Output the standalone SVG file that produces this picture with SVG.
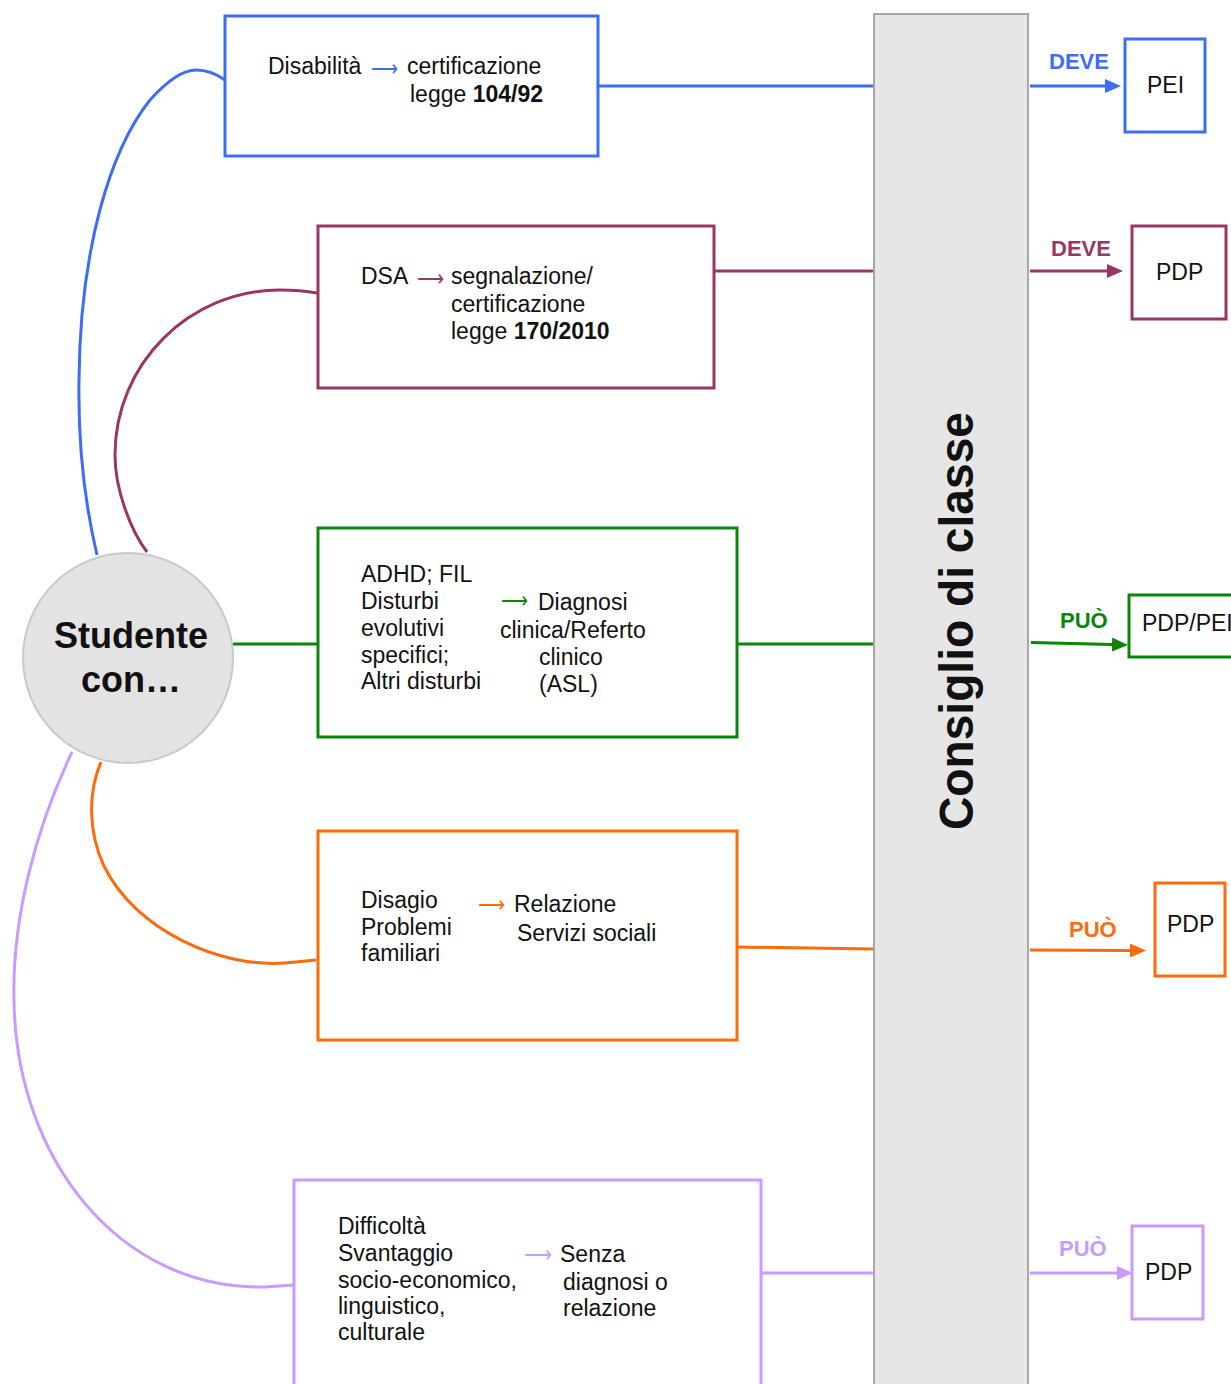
<svg xmlns="http://www.w3.org/2000/svg" width="1231" height="1384" viewBox="0 0 1231 1384">
  <style>
    text { font-family: "Liberation Sans", Arial, Helvetica, sans-serif; fill: #111; }
    .body { font-size: 23px; }
    .arr { font-family: "DejaVu Sans", "Liberation Sans", sans-serif; font-size: 23px; }
    .lbl { font-size: 22px; font-weight: bold; }
    .box { fill: #fff; stroke-width: 3; }
    .conn { fill: none; stroke-width: 3; }
    .blue { stroke: #3d6df5; }
    .maroon { stroke: #9b3566; }
    .green { stroke: #0a860a; }
    .orange { stroke: #ff6a0a; }
    .violet { stroke: #cc99ff; }
  </style>
  <defs>
    <marker id="ah-blue" markerUnits="userSpaceOnUse" markerWidth="16" markerHeight="14" refX="0" refY="7" orient="auto"><path d="M0,0 L16,7 L0,14 z" fill="#3d6df5"/></marker>
    <marker id="ah-maroon" markerUnits="userSpaceOnUse" markerWidth="16" markerHeight="14" refX="0" refY="7" orient="auto"><path d="M0,0 L16,7 L0,14 z" fill="#9b3566"/></marker>
    <marker id="ah-green" markerUnits="userSpaceOnUse" markerWidth="16" markerHeight="14" refX="0" refY="7" orient="auto"><path d="M0,0 L16,7 L0,14 z" fill="#0a860a"/></marker>
    <marker id="ah-orange" markerUnits="userSpaceOnUse" markerWidth="16" markerHeight="14" refX="0" refY="7" orient="auto"><path d="M0,0 L16,7 L0,14 z" fill="#ff6a0a"/></marker>
    <marker id="ah-violet" markerUnits="userSpaceOnUse" markerWidth="16" markerHeight="14" refX="0" refY="7" orient="auto"><path d="M0,0 L16,7 L0,14 z" fill="#cc99ff"/></marker>
  </defs>

  <rect width="1231" height="1384" fill="#fff"/>

  <!-- connectors -->
  <g id="connectors">
    <!-- curves from the student circle to each category box -->
    <path class="conn blue" d="M97,555 C84,500 78,440 79,380 C80,250 110,150 150,100 C168,80 183,70 196,70 C208,70 218,75 225,80"/>
    <path class="conn maroon" d="M147,552 C131,531 115,490 115,455 C115,364 189,290 280,290 C294,290 306,291 317,293"/>
    <path class="conn green" d="M233,644 L318,644"/>
    <path class="conn orange" d="M101,762 C88,792 88,832 104,866 C135,930 220,968 285,963 L316,960"/>
    <path class="conn violet" d="M72,752 C35,830 12,920 14,1000 C16,1160 120,1290 265,1287 L294,1285"/>
    <!-- boxes to the class council -->
    <path class="conn blue" d="M598,86 L874,86"/>
    <path class="conn maroon" d="M714,271 L874,271"/>
    <path class="conn green" d="M737,644 L874,644"/>
    <path class="conn orange" d="M737,947 L874,949"/>
    <path class="conn violet" d="M761,1273 L874,1273"/>
    <!-- council to plans -->
    <path class="conn blue" d="M1030,86 L1105,86" marker-end="url(#ah-blue)"/>
    <path class="conn maroon" d="M1030,271 L1107,271" marker-end="url(#ah-maroon)"/>
    <path class="conn green" d="M1031,642.5 L1112,644.5" marker-end="url(#ah-green)"/>
    <path class="conn orange" d="M1030,950 L1130,950.5" marker-end="url(#ah-orange)"/>
    <path class="conn violet" d="M1030,1273 L1117,1273" marker-end="url(#ah-violet)"/>
    <text class="lbl" x="1049" y="69" style="fill:#3d6df5">DEVE</text>
    <text class="lbl" x="1051" y="256" style="fill:#9b3566">DEVE</text>
    <text class="lbl" x="1060" y="628" style="fill:#0a860a">PUÒ</text>
    <text class="lbl" x="1069" y="937" style="fill:#ff6a0a">PUÒ</text>
    <text class="lbl" x="1059" y="1256" style="fill:#cc99ff">PUÒ</text>
  </g>

  <!-- class council column -->
  <g id="consiglio">
    <rect x="874" y="14" width="154" height="1380" fill="#e6e6e6" stroke="#a8a8a8" stroke-width="2"/>
    <text transform="translate(973,621) rotate(-90)" text-anchor="middle" font-size="48" font-weight="bold" textLength="418" lengthAdjust="spacingAndGlyphs">Consiglio di classe</text>
  </g>

  <!-- student -->
  <g id="studente">
    <circle cx="128" cy="658" r="105" fill="#e3e3e3" stroke="#c9c9c9" stroke-width="2"/>
    <text x="131" y="648" text-anchor="middle" font-size="36" font-weight="bold">Studente</text>
    <text x="131" y="692" text-anchor="middle" font-size="36" font-weight="bold">con…</text>
  </g>

  <!-- disability -->
  <g id="disabilita">
    <rect class="box blue" x="225" y="16" width="373" height="140"/>
    <text class="body" x="268" y="74">Disabilità</text>
    <text class="arr" x="371" y="76" textLength="27" lengthAdjust="spacingAndGlyphs" style="fill:#3d6df5">⟶</text>
    <text class="body" x="407" y="74">certificazione</text>
    <text class="body" x="410" y="102">legge <tspan font-weight="bold">104/92</tspan></text>
  </g>

  <!-- DSA -->
  <g id="dsa">
    <rect class="box maroon" x="318" y="226" width="396" height="162"/>
    <text class="body" x="361" y="284">DSA</text>
    <text class="arr" x="417" y="286" textLength="27" lengthAdjust="spacingAndGlyphs" style="fill:#9b3566">⟶</text>
    <text class="body" x="451" y="284">segnalazione/</text>
    <text class="body" x="451" y="312">certificazione</text>
    <text class="body" x="451" y="339">legge <tspan font-weight="bold">170/2010</tspan></text>
  </g>

  <!-- ADHD / FIL -->
  <g id="adhd">
    <rect class="box green" x="318" y="528" width="419" height="209"/>
    <text class="body" x="361" y="582">ADHD; FIL</text>
    <text class="body" x="361" y="609">Disturbi</text>
    <text class="body" x="361" y="636">evolutivi</text>
    <text class="body" x="361" y="663">specifici;</text>
    <text class="body" x="361" y="689">Altri disturbi</text>
    <text class="arr" x="501" y="608" textLength="27" lengthAdjust="spacingAndGlyphs" style="fill:#0a860a">⟶</text>
    <text class="body" x="538" y="610">Diagnosi</text>
    <text class="body" x="500" y="638">clinica/Referto</text>
    <text class="body" x="539" y="665">clinico</text>
    <text class="body" x="539" y="692">(ASL)</text>
  </g>

  <!-- family distress -->
  <g id="disagio">
    <rect class="box orange" x="318" y="831" width="419" height="209"/>
    <text class="body" x="361" y="908">Disagio</text>
    <text class="body" x="361" y="935">Problemi</text>
    <text class="body" x="361" y="961">familiari</text>
    <text class="arr" x="478" y="912" textLength="27" lengthAdjust="spacingAndGlyphs" style="fill:#ff6a0a">⟶</text>
    <text class="body" x="514" y="912">Relazione</text>
    <text class="body" x="517" y="941">Servizi sociali</text>
  </g>

  <!-- socio-economic disadvantage -->
  <g id="svantaggio">
    <rect class="box violet" x="294" y="1180" width="467" height="220"/>
    <text class="body" x="338" y="1234">Difficoltà</text>
    <text class="body" x="338" y="1261">Svantaggio</text>
    <text class="body" x="338" y="1288">socio-economico,</text>
    <text class="body" x="338" y="1314">linguistico,</text>
    <text class="body" x="338" y="1340">culturale</text>
    <text class="arr" x="524" y="1262" textLength="28" lengthAdjust="spacingAndGlyphs" style="fill:#cc99ff">⟶</text>
    <text class="body" x="560" y="1262">Senza</text>
    <text class="body" x="563" y="1290">diagnosi o</text>
    <text class="body" x="563" y="1316">relazione</text>
  </g>

  <!-- plans -->
  <g id="pei">
    <rect class="box blue" x="1125" y="39" width="80" height="93"/>
    <text class="body" x="1147" y="93">PEI</text>
  </g>
  <g id="pdp-dsa">
    <rect class="box maroon" x="1132" y="226" width="94" height="93"/>
    <text class="body" x="1156" y="280">PDP</text>
  </g>
  <g id="pdp-pei">
    <rect class="box green" x="1129" y="595" width="120" height="62"/>
    <text class="body" x="1142" y="631">PDP/PEI</text>
  </g>
  <g id="pdp-disagio">
    <rect class="box orange" x="1155" y="883" width="70" height="93"/>
    <text class="body" x="1167" y="932">PDP</text>
  </g>
  <g id="pdp-svantaggio">
    <rect class="box violet" x="1132" y="1226" width="71" height="93"/>
    <text class="body" x="1145" y="1280">PDP</text>
  </g>
</svg>
